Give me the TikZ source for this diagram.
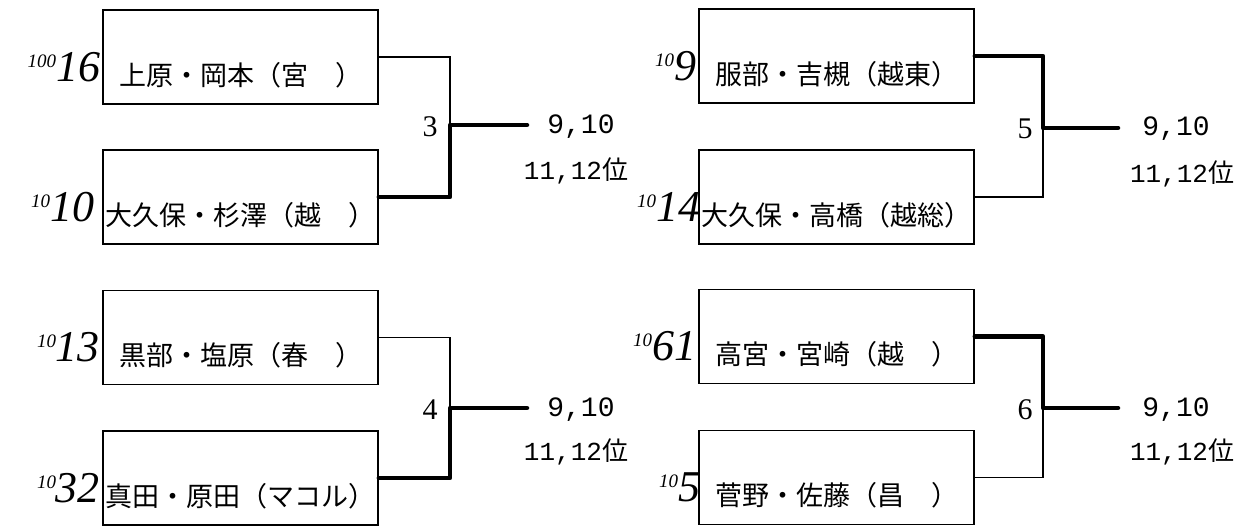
\documentclass[tikz,border=0pt]{standalone}
\usepackage{fontspec}
\setmainfont{Liberation Serif}
\newfontfamily\cjk{Noto Sans CJK JP}
\newfontfamily\monofnt{Liberation Mono}
\begin{document}
\begin{tikzpicture}[x=1pt,y=-1pt,
  entry/.style={draw,line width=1.6pt,minimum width=275pt,minimum height=94pt,inner sep=0pt},
  pname/.style={font=\cjk\fontsize{27}{27}\selectfont,inner sep=0pt},
  seed/.style={font=\itshape,inner sep=0pt,anchor=east},
  thinln/.style={line width=1.3pt},
  win/.style={line width=4.5pt,line cap=round,line join=round},
  rnd/.style={font=\fontsize{30}{30}\selectfont,inner sep=0pt},
  rankA/.style={font=\monofnt\fontsize{28}{28}\selectfont,inner sep=0pt},
  rankB/.style={font=\monofnt\fontsize{26}{26}\selectfont,inner sep=0pt}]
\useasboundingbox[fill=white] (0,0) rectangle (1254,527);
\newcommand\sd[2]{\raisebox{14pt}{\fontsize{19}{19}\selectfont #1}{\fontsize{44}{44}\selectfont #2}}
% boxes
\node[entry] (b1) at (240.5,57) {};
\node[entry] (b2) at (240.5,197) {};
\node[entry] (b3) at (240.5,337.5) {};
\node[entry] (b4) at (240.5,478) {};
\node[entry] (b5) at (836.5,56) {};
\node[entry] (b6) at (836.5,197) {};
\node[entry] (b7) at (836.5,336.5) {};
\node[entry] (b8) at (836.5,477.5) {};
% names
\node[pname] (n1) at ([yshift=-18pt]b1.center) {上原・岡本（宮　）};
\node[pname] (n2) at ([yshift=-18pt]b2.center) {大久保・杉澤（越　）};
\node[pname] (n3) at ([yshift=-18pt]b3.center) {黒部・塩原（春　）};
\node[pname] (n4) at ([yshift=-18pt]b4.center) {真田・原田（マコル）};
\node[pname] (n5) at ([yshift=-18pt]b5.center) {服部・吉槻（越東）};
\node[pname] (n6) at ([yshift=-18pt]b6.center) {大久保・高橋（越総）};
\node[pname] (n7) at ([yshift=-18pt]b7.center) {高宮・宮崎（越　）};
\node[pname] (n8) at ([yshift=-18pt]b8.center) {菅野・佐藤（昌　）};
% seeds
\node[seed] (s1) at ([xshift=-2pt,yshift=-10pt]b1.west) {\sd{100}{16}};
\node[seed] (s2) at ([xshift=-8pt,yshift=-10pt]b2.west) {\sd{10}{10}};
\node[seed] (s3) at ([xshift=-2pt,yshift=-10pt]b3.west) {\sd{10}{13}};
\node[seed] (s4) at ([xshift=-2pt,yshift=-10pt]b4.west) {\sd{10}{32}};
\node[seed] (s5) at ([xshift=-2pt,yshift=-10pt]b5.west) {\sd{10}{9}};
\node[seed] (s6) at ([xshift=2pt,yshift=-10pt]b6.west) {\sd{10}{14}};
\node[seed] (s7) at ([xshift=-2pt,yshift=-10pt]b7.west) {\sd{10}{61}};
\node[seed] (s8) at ([xshift=2pt,yshift=-10pt]b8.west) {\sd{10}{5}};
% junctions and ends
\coordinate (j1) at (450,125);
\coordinate (o1) at (527,125);
\coordinate (j2) at (450,408);
\coordinate (o2) at (527,408);
\coordinate (j3) at (1043,128);
\coordinate (o3) at (1118,128);
\coordinate (j4) at (1043,408);
\coordinate (o4) at (1118,408);
% thin connectors
\draw[thinln] (b1.east) -| (j1);
\draw[thinln] (b3.east) -| (j2);
\draw[thinln] (b6.east) -| (j3);
\draw[thinln] (b8.east) -| (j4);
% winners (thick)
\draw[win] (b2.east) -| (j1) -- (o1);
\draw[win] (b4.east) -| (j2) -- (o2);
\draw[win] (b5.east) -| (j3) -- (o3);
\draw[win] (b7.east) -| (j4) -- (o4);
% round numbers
\node[rnd] (r3) at (430,127) {3};
\node[rnd] (r4) at (430,410) {4};
\node[rnd] (r5) at (1025,129) {5};
\node[rnd] (r6) at (1025,410) {6};
% rank labels
\node[rankA] (a1) at (581,127) {9,10};
\node[rankB] (c1) at (576,171) {11,12{\cjk 位}};
\node[rankA] (a2) at (581,410) {9,10};
\node[rankB] (c2) at (576,452) {11,12{\cjk 位}};
\node[rankA] (a3) at (1176,129) {9,10};
\node[rankB] (c3) at (1182,174) {11,12{\cjk 位}};
\node[rankA] (a4) at (1176,410) {9,10};
\node[rankB] (c4) at (1182,452) {11,12{\cjk 位}};
\end{tikzpicture}
\end{document}
